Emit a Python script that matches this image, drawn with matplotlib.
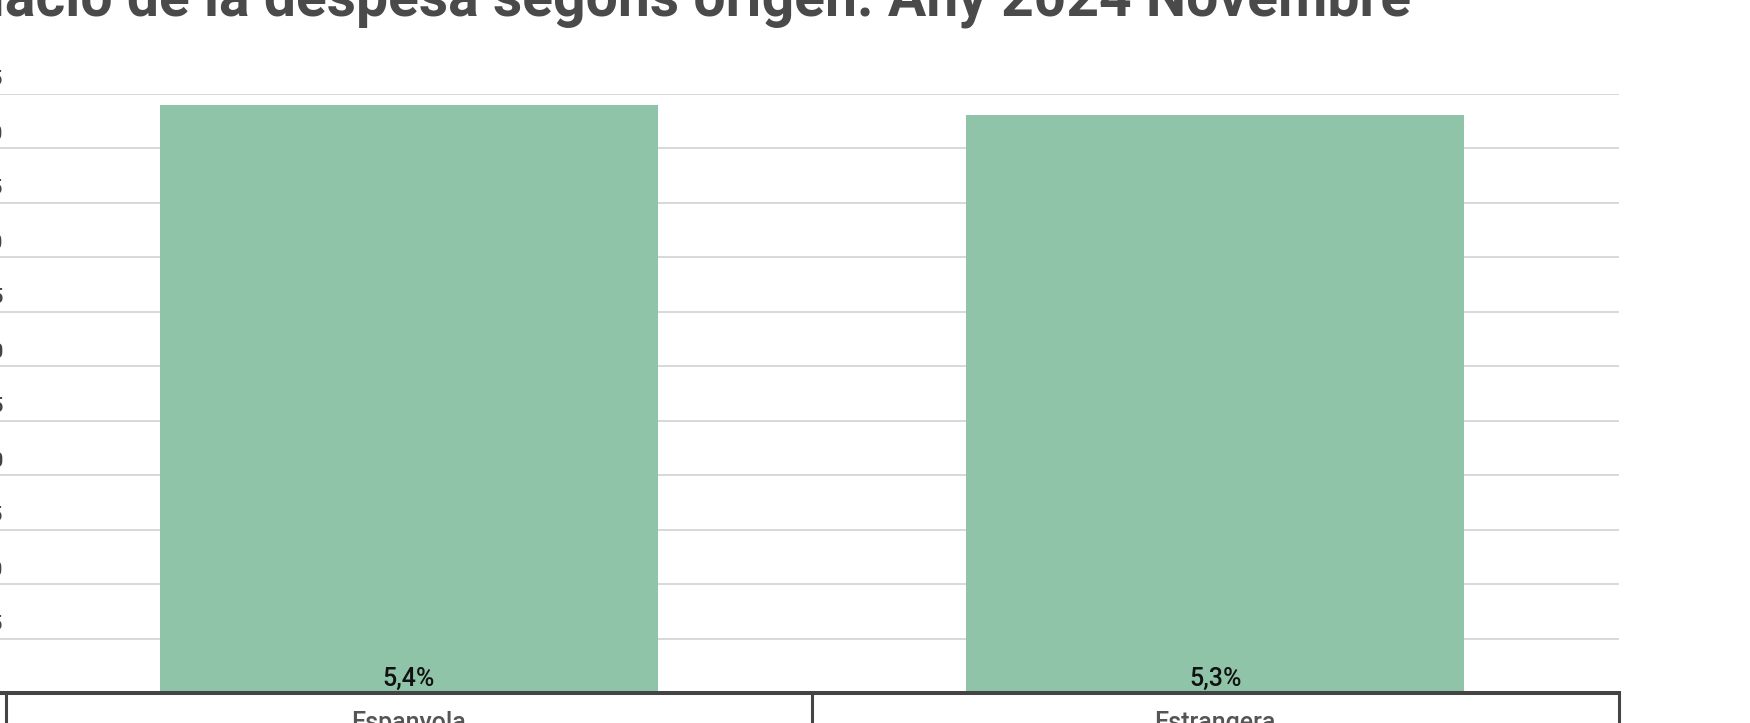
import matplotlib.pyplot as plt
import matplotlib.transforms as mtransforms

plt.rcParams['font.family'] = ['Roboto', 'DejaVu Sans']

categories = ['Espanyola', 'Estrangera']
values = [5.4, 5.3]
value_labels = ['5,4%', '5,3%']
ytick_values = [0.5, 1.0, 1.5, 2.0, 2.5, 3.0, 3.5, 4.0, 4.5, 5.0, 5.5]
ytick_labels = ['0,5', '1,0', '1,5', '2,0', '2,5', '3,0', '3,5', '4,0', '4,5', '5,0', '5,5']
title = 'Variació de la despesa segons origen. Any 2024 Novembre'

W, H = 1750, 723
fig = plt.figure(figsize=(W / 100, H / 100), dpi=100)
ax = fig.add_axes([0, (H - 693) / H, 1618.5 / W, (693 - 93.7) / H])

x = list(range(len(categories)))
ax.bar(x, values, width=0.617, color='#8fc4a8', zorder=2)

ax.set_xlim(-0.5 - 5.5 / 806.5, 1.5)
ax.set_ylim(0, 5.5)

ax.set_yticks(ytick_values)
ax.yaxis.grid(True, color='#d9d9d9', linewidth=1.44, zorder=0)
ax.set_axisbelow(True)
ax.tick_params(axis='y', length=0, labelleft=False)
ax.set_xticks([])

for s in ['top', 'right', 'left']:
    ax.spines[s].set_visible(False)
ax.spines['bottom'].set_color('#444444')
ax.spines['bottom'].set_linewidth(2.9)
ax.spines['bottom'].set_zorder(3)

# y labels sit just above the gridlines
ylab_tr = mtransforms.blended_transform_factory(ax.transAxes, ax.transData) + \
    mtransforms.ScaledTranslation(0.03, 0.09, fig.dpi_scale_trans)
for v, lab in zip(ytick_values, ytick_labels):
    ax.text(0, v, lab, transform=ylab_tr, ha='right', va='baseline',
            fontsize=15, fontweight='medium', color='#444444')

# separators below the axis
ax.vlines([-0.5, 0.5, 1.5], -0.4, 0, color='#444444', linewidth=2.2,
          clip_on=False, zorder=3)

for xi, lab in zip(x, value_labels):
    ax.annotate(lab, (xi, 0), xytext=(0, 5.4), textcoords='offset points',
                ha='center', va='baseline', fontsize=18, fontweight='medium',
                color='#111111', zorder=4)

for xi, lab in zip(x, categories):
    ax.annotate(lab, (xi, 0), xytext=(0, -26.8), textcoords='offset points',
                ha='center', va='baseline', fontsize=18, fontweight='medium',
                color='#555555', annotation_clip=False)

fig.text(1411 / W, 1 - 16 / H, title, ha='right', va='baseline',
         fontsize=41, fontweight='bold', color='#4a4a4a')

fig.savefig('out.png', dpi=100)
